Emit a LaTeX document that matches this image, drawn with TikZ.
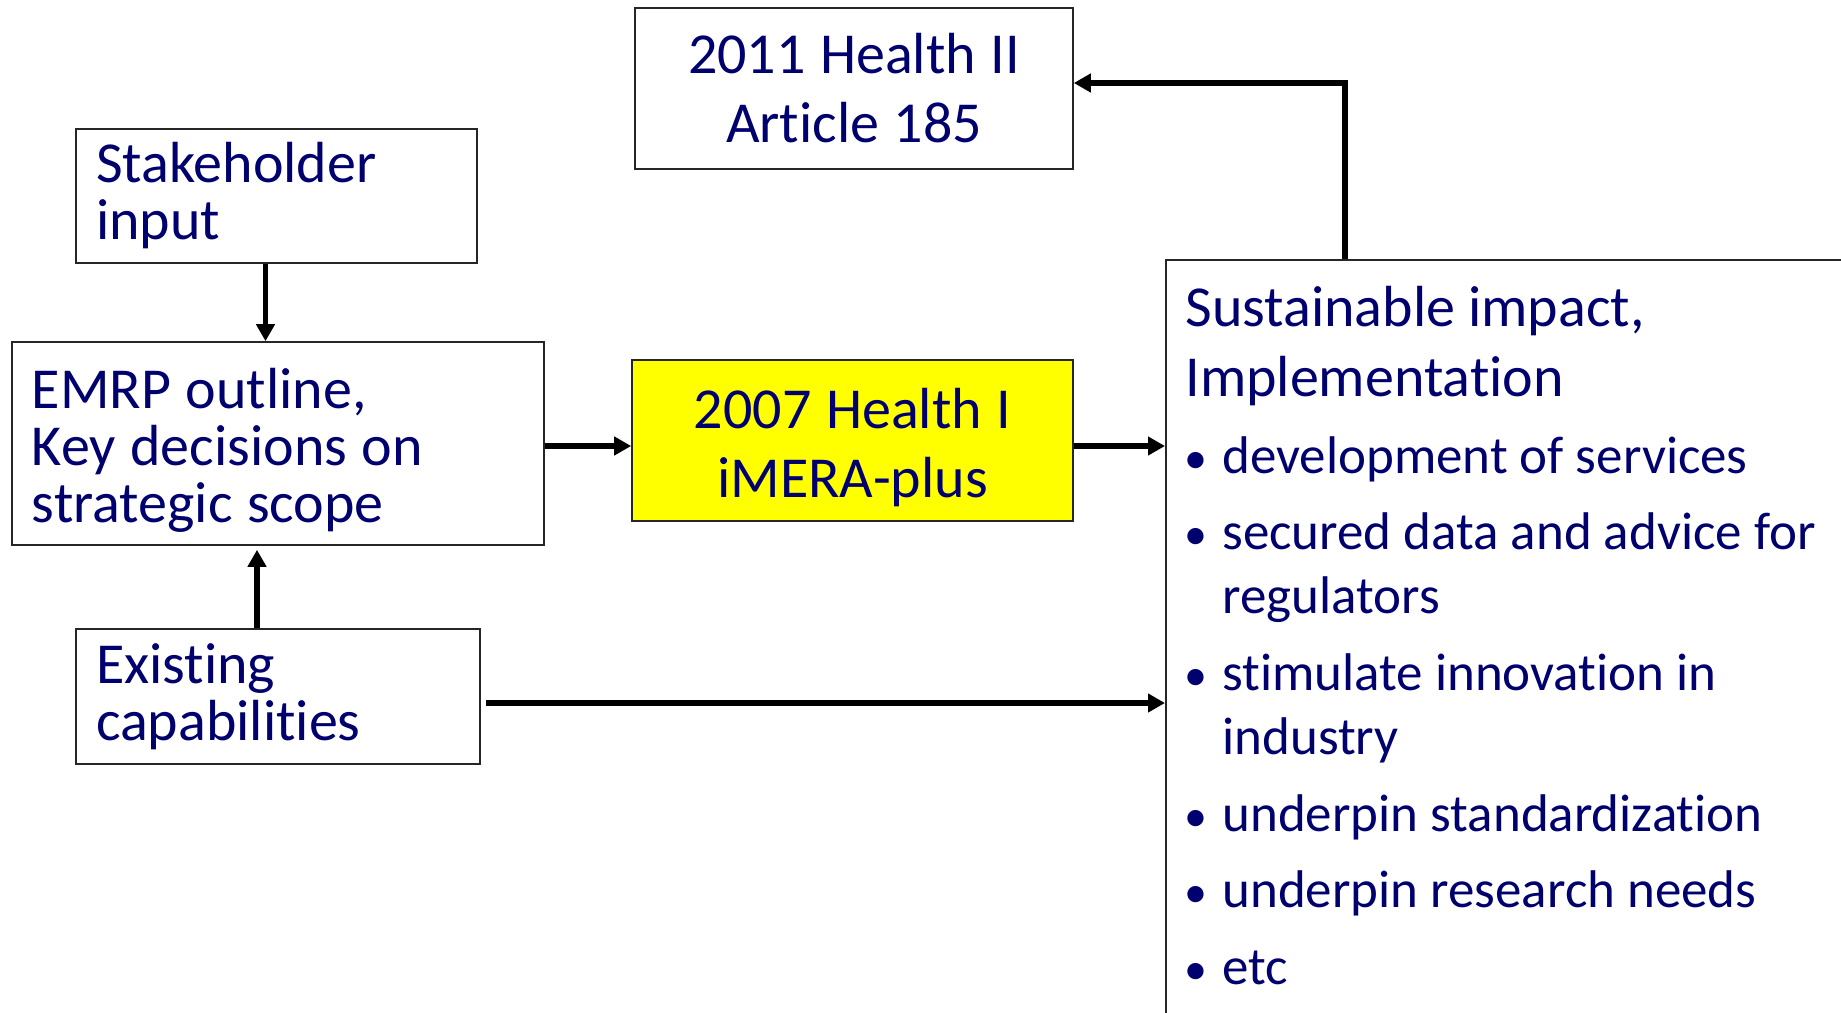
\documentclass[tikz,border=0pt]{standalone}
\usepackage{fontspec}
\setmainfont{Carlito}[Ligatures=NoCommon]
\usetikzlibrary{arrows.meta}
\definecolor{navy}{RGB}{0,0,110}
\definecolor{hlyellow}{RGB}{255,255,0}
\newcommand\wsp{\spaceskip=0.25em\xspaceskip=0.25em\relax}
\begin{document}
\begin{tikzpicture}[x=0.5pt,y=-0.5pt,
  box/.style={draw=black!85, line width=0.8pt, text=navy, inner ysep=0pt},
  lbox/.style={box, align=left, inner xsep=10pt, font=\fontsize{29}{28.5}\selectfont},
  cbox/.style={box, align=center, inner xsep=0pt, font=\fontsize{29}{34.5}\selectfont},
  arr/.style={line width=2.6pt, -{Triangle[length=8.5pt,width=9pt]}},
  ttl/.style={anchor=base west, inner sep=0pt, text=navy, font=\fontsize{29}{34}\selectfont},
  itm/.style={anchor=base west, inner sep=0pt, text=navy, font=\fontsize{26.5}{32}\selectfont},
  bul/.style={anchor=base, inner sep=0pt, text=navy, font=\fontsize{23}{32}\selectfont}]
\clip (0,0) rectangle (1841,1012);
\fill[white] (0,0) rectangle (1841,1012);

% boxes
\node[lbox, text width=180.5pt, minimum height=67pt] (stake) at (276.5,196) {Stakeholder\\input};
\node[lbox, text width=246pt, minimum height=101.5pt] (emrp) at (278,443.5) {\wsp\rule{0pt}{27pt}EMRP outline,\\Key decisions on\\strategic scope};
\node[lbox, text width=182pt, minimum height=67.5pt] (exist) at (278,696.5) {Existing\\capabilities};
\node[cbox, text width=219pt, minimum height=80.5pt] (health2) at (854,88.5) {\wsp 2011 Health II\\Article 185};
\node[cbox, fill=hlyellow, text width=220.5pt, minimum height=80.5pt] (health1) at (852.5,440.5) {\wsp\rule{0pt}{27pt}2007 Health I\\iMERA-plus};
\node[draw=black!85, line width=0.8pt, anchor=north west, minimum width=420pt, minimum height=420pt, inner sep=0pt] (impact) at (1165,259) {};

% text of the impact box
\node[ttl] (t1) at (1185,326) {Sustainable impact,};
\node[ttl] (t2) at (1185,396) {Implementation};
\node[bul] (d1) at (1196,473) {•};
\node[itm] (i1) at (1222,473) {development of services};
\node[bul] (d2) at (1196,549) {•};
\node[itm] (i2a) at (1222,549) {secured data and advice for};
\node[itm] (i2b) at (1222,613) {regulators};
\node[bul] (d3) at (1196,690) {•};
\node[itm] (i3a) at (1222,690) {stimulate innovation in};
\node[itm] (i3b) at (1222,754) {industry};
\node[bul] (d4) at (1196,831) {•};
\node[itm] (i4) at (1222,831) {underpin standardization};
\node[bul] (d5) at (1196,907) {•};
\node[itm] (i5) at (1222,907) {underpin research needs};
\node[bul] (d6) at (1196,984) {•};
\node[itm] (i6) at (1222,984) {etc};

% connectors
\draw[arr] ([xshift=-5.5pt]stake.south) -- ([xshift=-5.5pt]stake.south |- emrp.north);
\draw[arr] ([xshift=-10.5pt]exist.north) -- ([xshift=-10.5pt,yshift=-2pt]exist.north |- emrp.south);
\draw[arr] ([yshift=-1.25pt]emrp.east) -- ([yshift=-1.25pt]emrp.east -| health1.west);
\draw[arr] ([yshift=-2.75pt]health1.east) -- ([yshift=-2.75pt]health1.east -| impact.west);
\draw[arr, line width=3pt] ([xshift=2.5pt,yshift=-3.25pt]exist.east) -- ([yshift=-3.25pt]exist.east -| impact.west);
\draw[arr, line width=3pt] ([xshift=90pt]impact.north west) |- ([yshift=2.75pt]health2.east);
\end{tikzpicture}
\end{document}
